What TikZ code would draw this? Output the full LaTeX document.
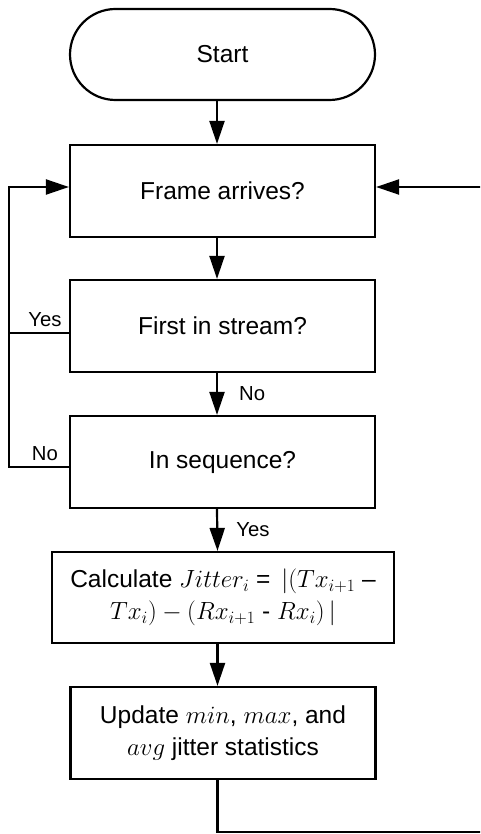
\documentclass[tikz,border=0pt]{standalone}
\usepackage{fontspec}
\setmainfont{Liberation Sans}
\usepackage{tikz}
\usetikzlibrary{shapes.misc}
\usetikzlibrary{arrows.meta}
\tikzset{
	flownode/.style = {
		draw=black,
		line width=2.2pt,
		align=center,
		inner sep=0pt,
		font=\fontsize{24.5}{31.5}\selectfont
	},
	node_start/.style = {
		flownode,
		rounded rectangle,
		minimum width=305pt,
		minimum height=91pt
	},
	node_step/.style = {
		flownode,
		rectangle,
		minimum width=305pt,
		minimum height=92pt
	},
	node_wide/.style = {
		node_step,
		minimum width=342pt,
		minimum height=91pt
	},
	node_lbl/.style = {
		inner sep=0pt,
		font=\fontsize{20.3}{24}\selectfont
	},
	flowline/.style = {
		line width=2.2pt
	},
	flowarrow/.style = {
		flowline,
		-{Triangle[length=23pt,width=15pt]}
	},
}

\begin{document}
\begin{tikzpicture}[x=1pt,y=-1pt]
\useasboundingbox (0,0) rectangle (480,834);
\clip (0,0) rectangle (480,834);
\node [node_start] (start) at (222.5,54.5) {Start};
\node [node_step] (frame) at (222.5,191) {Frame arrives?};
\node [node_step] (first) at (222.5,326) {First in stream?};
\node [node_step] (inseq) at (222.5,462) {In sequence?};
\node [node_wide] (calc) at (223,597.5) {Calculate $Jitter_i$ = \,$|(Tx_{i+1}$ \textendash\\$Tx_i) - (Rx_{i+1}$ - $Rx_i)\,|$};
\node [node_step] (update) at (223,733) {Update $min$, $max$, and\\$avg$ jitter statistics};
\coordinate (loopl) at (9,187);
\coordinate (joinl) at (9,333);
\coordinate (loopr) at (490,832);
\draw [flowarrow] ([xshift=-5.5pt]start.south) -- ([xshift=-5.5pt]frame.north);
\draw [flowarrow] ([xshift=-5.5pt]frame.south) -- ([xshift=-5.5pt]first.north);
\draw [flowarrow] ([xshift=-5.5pt]first.south) -- node [node_lbl, anchor=west, xshift=21pt] {No} ([xshift=-5.5pt]inseq.north);
\draw [flowarrow] ([xshift=-5.5pt]inseq.south) -- node [node_lbl, anchor=west, xshift=18pt] {Yes} ([xshift=-5.5pt]calc.north);
\draw [flowarrow] ([xshift=-5.5pt]calc.south) -- ([xshift=-5.5pt]update.north);
\draw [flowarrow] ([yshift=-7pt]first.west) node [node_lbl, anchor=south, xshift=-24pt, yshift=5pt] {Yes} -- (joinl) -- (loopl) -- ([yshift=4pt]frame.west);
\draw [flowline] ([yshift=-5pt]inseq.west) node [node_lbl, anchor=south, xshift=-24pt, yshift=5pt] {No} -| (joinl);
\draw [flowarrow] ([xshift=-5.5pt]update.south) |- (loopr) |- ([yshift=4pt]frame.east);
\end{tikzpicture}
\end{document}
